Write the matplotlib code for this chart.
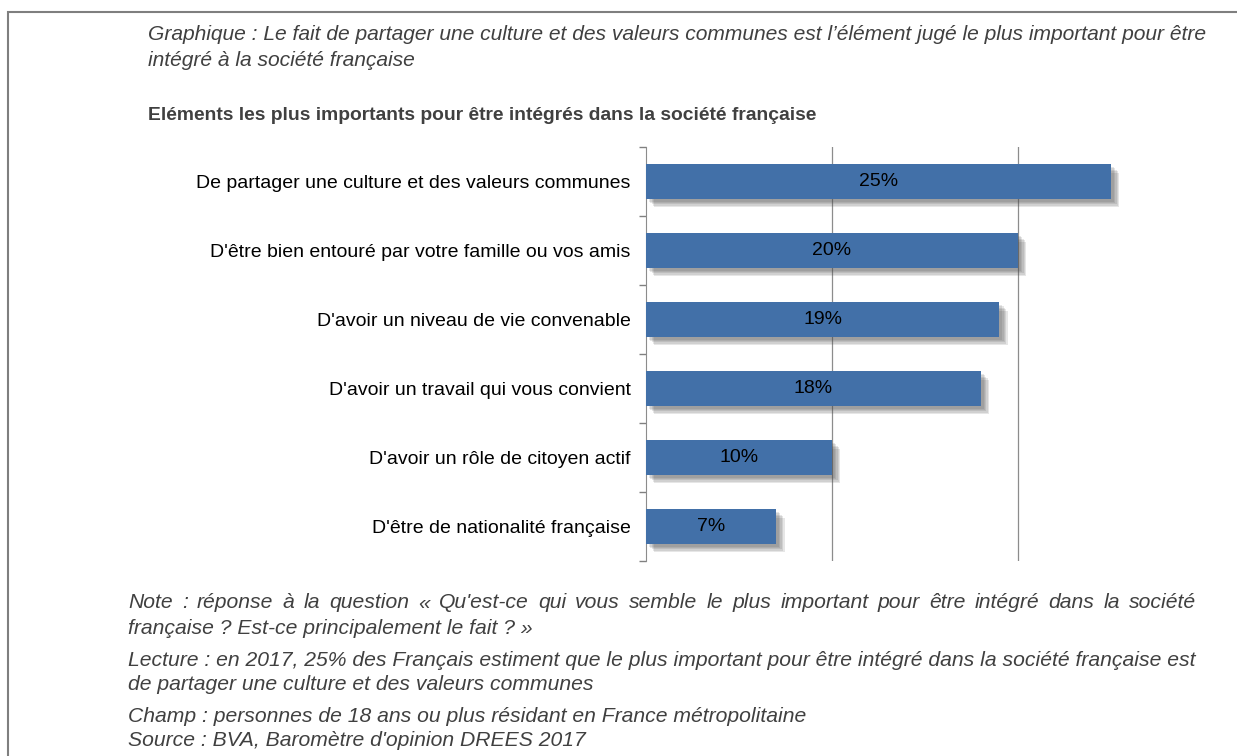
import matplotlib.pyplot as plt
import matplotlib.patheffects as pe

plt.rcParams['font.family'] = ['Liberation Sans', 'DejaVu Sans']

categories = [
    "De partager une culture et des valeurs communes",
    "D'être bien entouré par votre famille ou vos amis",
    "D'avoir un niveau de vie convenable",
    "D'avoir un travail qui vous convient",
    "D'avoir un rôle de citoyen actif",
    "D'être de nationalité française",
]
values = [25, 20, 19, 18, 10, 7]
labels = ["25%", "20%", "19%", "18%", "10%", "7%"]

title_lines = [
    "Graphique : Le fait de partager une culture et des valeurs communes est l’élément jugé le plus important pour être",
    "intégré à la société française",
]
subtitle = "Eléments les plus importants pour être intégrés dans la société française"
notes = [
    "Note : réponse à la question « Qu'est-ce qui vous semble le plus important pour être intégré dans la société",
    "française ? Est-ce principalement le fait ? »",
    "Lecture : en 2017, 25% des Français estiment que le plus important pour être intégré dans la société française est",
    "de partager une culture et des valeurs communes",
    "Champ : personnes de 18 ans ou plus résidant en France métropolitaine",
    "Source : BVA, Baromètre d'opinion DREES 2017",
]
notes_y = [603, 628, 660, 685, 717, 741]
justified = [True, False, False, False, False, False]

W, H = 1237, 756
fig = plt.figure(figsize=(W / 100, H / 100), dpi=100)
renderer = fig.canvas.get_renderer()

# cadre autour de la figure
frame = plt.Rectangle((8 / W, -0.1), 1.2, 1 - 12 / H + 0.1, transform=fig.transFigure,
                      fill=False, edgecolor='#7f7f7f', linewidth=1.5)
fig.patches.append(frame)

ax = fig.add_axes([646 / W, 1 - 561 / H, (1204 - 646) / W, (561 - 147) / H])
pos = list(range(len(categories)))
# ombre floue : plusieurs couches décalées
shadow = [pe.SimplePatchShadow(offset=(o, -o), shadow_rgbFace='#505050', alpha=0.14) for o in (6, 5, 4, 3, 2)]
bars = ax.barh(pos, values, height=0.5, color='#4270a8', zorder=3,
               path_effects=shadow + [pe.Normal()])
for p, v, lab in zip(pos, values, labels):
    ax.text(v / 2, p, lab, ha='center', va='center', fontsize=14, color='black', zorder=4)

ax.set_xlim(0, 30)
ax.set_ylim(len(categories) - 0.5, -0.5)
ax.set_yticks(pos)
ax.set_yticklabels(categories, fontsize=14)
ax.tick_params(axis='y', which='major', length=0, pad=11)
ax.set_yticks([i - 0.5 for i in range(len(categories) + 1)], minor=True)
ax.tick_params(axis='y', which='minor', length=5, color='#808080', width=1)
ax.set_xticks([])
for x in [10, 20]:
    ax.axvline(x, color='#8c8c8c', linewidth=0.9, zorder=1)
for s in ['top', 'right', 'bottom']:
    ax.spines[s].set_visible(False)
ax.spines['left'].set_color('#8c8c8c')

for i, line in enumerate(title_lines):
    fig.text(148 / W, 1 - [34, 60][i] / H, line, fontsize=15.1, style='italic', color='#404040',
             ha='left', va='center')
fig.text(148 / W, 1 - 115 / H, subtitle, fontsize=13.9, weight='bold', color='#404040',
         ha='left', va='center')


def justify_line(line, x0, x1, y, **kw):
    words = line.split(' ')
    texts = [fig.text(0, y, w, ha='left', va='center', **kw) for w in words]
    widths = [t.get_window_extent(renderer).width for t in texts]
    gap = (x1 - x0 - sum(widths)) / (len(words) - 1)
    x = x0
    for t, w in zip(texts, widths):
        t.set_x(x / W)
        x += w + gap


for line, y, jus in zip(notes, notes_y, justified):
    kw = dict(fontsize=15.2, style='italic', color='#404040')
    if jus:
        justify_line(line, 128, 1196, 1 - y / H, **kw)
    else:
        fig.text(128 / W, 1 - y / H, line, ha='left', va='center', **kw)

fig.savefig('out.png', dpi=100)
